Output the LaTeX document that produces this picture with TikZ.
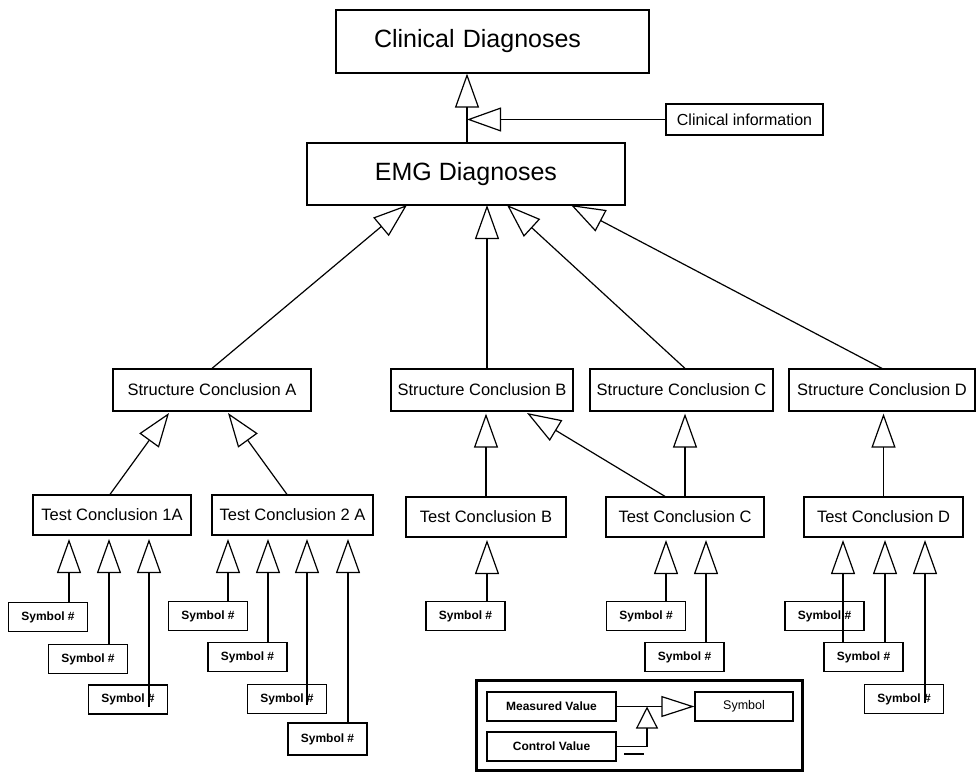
\documentclass[tikz,border=0pt]{standalone}
\usepackage{fontspec}
\setmainfont{Liberation Sans}
\usetikzlibrary{arrows.meta,calc}
\begin{document}
\begin{tikzpicture}[x=1pt,y=-1pt,
  box/.style={draw, line width=1.2pt, inner sep=0pt, font=\fontsize{16.5}{19}\selectfont},
  bigbox/.style={box, font=\fontsize{25}{30}\selectfont},
  structbox/.style={box, minimum height=42pt},
  testbox/.style={box, minimum height=40pt},
  symbox/.style={box, minimum width=79pt, minimum height=29pt, font=\bfseries\fontsize{12}{14}\selectfont},
  legbox/.style={box, minimum height=29pt, font=\bfseries\fontsize{12}{14}\selectfont},
  tri/.style={line width=1.2pt, -{Triangle[open,length=34pt,width=24pt]}},
  legtri/.style={line width=1.2pt, -{Triangle[open,length=33pt,width=21pt]}},
  smalltri/.style={line width=1.2pt, -{Triangle[open,length=22pt,width=22pt]}},
  plain/.style={line width=1.2pt}
]
\fill[white] (0,0) rectangle (979,771);
\useasboundingbox (0,0) rectangle (979,771);

% top level
\node[bigbox, minimum width=313pt, minimum height=63pt, inner xsep=38pt, text width=237pt, align=left] (clin) at (492.5,41.5) {Clinical Diagnoses};
\node[bigbox, minimum width=318pt, minimum height=62pt] (emg) at (466,174) {EMG Diagnoses};
\node[box, font=\fontsize{16}{18}\selectfont, minimum width=157pt, minimum height=31pt] (cinfo) at (744.5,119.5) {Clinical information};

% structure conclusions
\node[structbox, minimum width=198pt] (sA) at (212,390) {Structure Conclusion A};
\node[structbox, minimum width=182pt] (sB) at (482,390) {Structure Conclusion B};
\node[structbox, minimum width=183pt] (sC) at (681.5,390) {Structure Conclusion C};
\node[structbox, minimum width=186pt] (sD) at (882,390) {Structure Conclusion D};

% test conclusions
\node[testbox, minimum width=158pt] (t1A) at (112,515) {Test Conclusion 1A};
\node[testbox, minimum width=161pt] (t2A) at (292.5,515) {Test Conclusion 2 A};
\node[testbox, minimum width=160pt] (tB) at (486,517) {Test Conclusion B};
\node[testbox, minimum width=158pt] (tC) at (685,517) {Test Conclusion C};
\node[testbox, minimum width=159pt] (tD) at (883.5,517) {Test Conclusion D};

% symbols
\node[symbox] (y1A1) at (48,617) {Symbol \#};
\node[symbox] (y1A2) at (88,659) {Symbol \#};
\node[symbox] (y1A3) at (128,699.5) {Symbol \#};
\node[symbox] (y2A1) at (208,616) {Symbol \#};
\node[symbox] (y2A2) at (247.5,657) {Symbol \#};
\node[symbox] (y2A3) at (287,699) {Symbol \#};
\node[symbox, minimum height=32pt] (y2A4) at (327.5,739) {Symbol \#};
\node[symbox] (yB) at (465.5,616) {Symbol \#};
\node[symbox] (yC1) at (646,616) {Symbol \#};
\node[symbox] (yC2) at (684.5,657) {Symbol \#};
\node[symbox] (yD1) at (824.5,616) {Symbol \#};
\node[symbox] (yD2) at (863.5,657) {Symbol \#};
\node[symbox] (yD3) at (904,699) {Symbol \#};

% legend
\node[draw, line width=3pt, minimum width=326pt, minimum height=90pt, inner sep=0pt] (leg) at (639,725) {};
\node[legbox, minimum width=129pt] (mv) at (551.5,706.5) {Measured Value};
\node[legbox, minimum width=129pt] (cv) at (551.5,746.5) {Control Value};
\node[legbox, minimum width=98pt, font=\fontsize{12.5}{14}\selectfont] (sy) at (744,706.5) {Symbol};

% coordinates
\coordinate (vl) at (467,0);
\coordinate (eA) at (407,205);
\coordinate (eB) at (487,205);
\coordinate (eC) at (507,205);
\coordinate (eD) at (571,205);
\coordinate (aL) at (169,413);
\coordinate (aR) at (228,413);
\coordinate (bR) at (527,413);
\coordinate (p1) at (69,539);
\coordinate (p2) at (109,539);
\coordinate (p3) at (149,539);
\coordinate (q3) at (149,707);
\coordinate (p4) at (228,539);
\coordinate (p5) at (268,539);
\coordinate (p6) at (307,539);
\coordinate (q6) at (307,705);
\coordinate (p7) at (348,539);
\coordinate (pB) at (487,540);
\coordinate (pC1) at (666,540);
\coordinate (pC2) at (706,540);
\coordinate (pD1) at (843,540);
\coordinate (pD2) at (885,540);
\coordinate (pD3) at (925,540);
\coordinate (qD3) at (925,703);
\coordinate (jn) at (647,706.5);

% top connectors
\draw[tri] (emg.north -| vl) -- (clin.south -| vl);
\draw[tri] (cinfo.west) -- (cinfo.west -| vl);

% structure -> EMG
\draw[tri] (sA.north) -- (eA);
\draw[tri] (eB |- sB.north) -- (eB);
\draw[tri] (tC.north |- sC.north) -- (eC);
\draw[tri] (sD.north) -- (eD);

% test -> structure
\draw[tri] ($(t1A.north)+(-2,0)$) -- (aL);
\draw[tri] ($(t2A.north)+(-5.5,0)$) -- (aR);
\draw[tri, shorten >=2pt] (tB.north) -- (tB.north |- sB.south);
\draw[tri] ($(tC.north)+(-20,0)$) -- (bR);
\draw[tri, shorten >=2pt] (tC.north) -- (tC.north |- sC.south);
\draw[tri, shorten >=2pt] (tD.north) -- (tD.north |- sD.south);

% symbol -> test
\draw[tri] (y1A1.north -| p1) -- (p1);
\draw[tri] (y1A2.north -| p2) -- (p2);
\draw[tri] (q3) -- (p3);
\draw[tri] (y2A1.north -| p4) -- (p4);
\draw[tri] (y2A2.north -| p5) -- (p5);
\draw[tri] (q6) -- (p6);
\draw[tri] (y2A4.north -| p7) -- (p7);
\draw[tri] (yB.north -| pB) -- (pB);
\draw[tri] (yC1.north -| pC1) -- (pC1);
\draw[tri] (yC2.north -| pC2) -- (pC2);
\draw[tri] (yD2.north -| pD1) -- (pD1);
\draw[tri] (yD2.north -| pD2) -- (pD2);
\draw[tri] (qD3) -- (pD3);

% legend connectors
\draw[legtri] (mv.east) -- (sy.west);
\draw[smalltri] (cv.east) -| (jn);
\draw[plain] (624,754) -- (644,754);
\end{tikzpicture}
\end{document}
